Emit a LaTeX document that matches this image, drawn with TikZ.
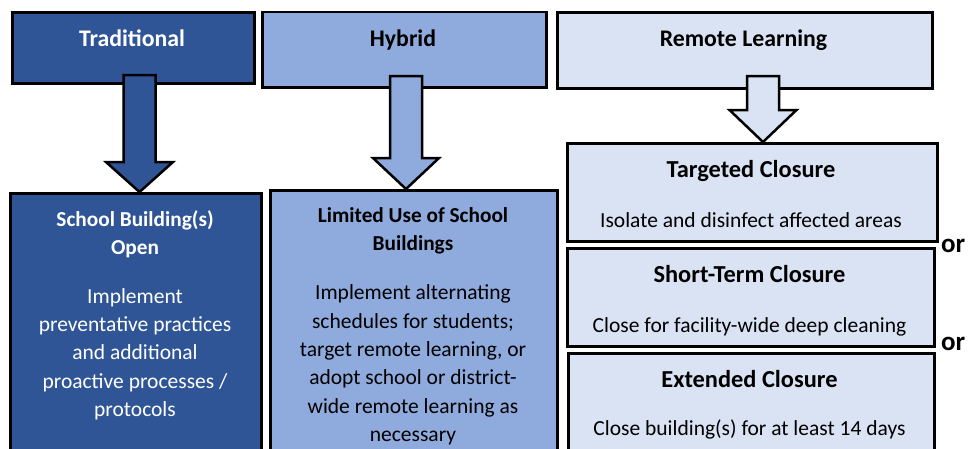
\documentclass[tikz,border=0pt]{standalone}
\usepackage{fontspec}
\setmainfont{Carlito}
\usetikzlibrary{calc}
\definecolor{dblue}{HTML}{2F5597}
\definecolor{mblue}{HTML}{8FAADC}
\definecolor{lblue}{HTML}{DAE3F3}
\newcommand\titlefont{\fontsize{23.8}{28.3}\selectfont\bfseries}
\newcommand\closurefont{\fontsize{24.4}{28.3}\selectfont\bfseries}
\newcommand\subtitlefont{\fontsize{21.3}{28.3}\selectfont\bfseries}
\newcommand\bodyfont{\fontsize{21.5}{28.3}\selectfont}
\newcommand\orfont{\fontsize{27}{30}\selectfont\bfseries}
\newcommand\blockarrow[6]{%
  \draw[arrowline, fill=#6] let \p1=(#1), \p2=(#2) in
    (\x1-#4pt,\y1) -- (\x1+#4pt,\y1) -- (\x1+#4pt,\y2+#3pt) -- (\x1+#5pt,\y2+#3pt)
    -- (\x1,\y2) -- (\x1-#5pt,\y2+#3pt) -- (\x1-#4pt,\y2+#3pt) -- cycle;}
\tikzset{
  box/.style={draw=black, line width=2.5pt, inner sep=0pt, anchor=north west},
  arrowline/.style={draw=black, line width=2.5pt, line join=miter},
  lbl/.style={inner sep=0pt, align=center, anchor=north},
  one/.style={inner sep=0pt, anchor=base},
}
\begin{document}
\begin{tikzpicture}[x=1pt,y=-1pt]
\useasboundingbox (0,0) rectangle (978,448);
\clip (0,0) rectangle (978,448);
\fill[white] (0,0) rectangle (978,448);
% top boxes
\node[box, fill=dblue, minimum width=242pt, minimum height=71pt] (trad) at (11,11) {};
\node[box, fill=mblue, minimum width=284pt, minimum height=75.5pt] (hyb) at (261,10.5) {};
\node[box, fill=lblue, minimum width=375pt, minimum height=76pt] (rem) at (556,11) {};
% bottom boxes
\node[box, fill=dblue, minimum width=251pt, minimum height=280pt] (sbo) at (9,192) {};
\node[box, fill=mblue, minimum width=287pt, minimum height=283pt] (lim) at (269,189) {};
\node[box, fill=lblue, minimum width=370pt, minimum height=98pt] (tgt) at (566,142) {};
\node[box, fill=lblue, minimum width=367pt, minimum height=98pt] (stc) at (566,247) {};
\node[box, fill=lblue, minimum width=366pt, minimum height=120pt] (ext) at (567,352) {};
% arrows
\coordinate (a1) at (139.5,75);
\coordinate (a2) at (406,76);
\coordinate (a3) at (763,76);
\blockarrow{a1}{a1 |- sbo.north}{30}{16}{33.5}{dblue}
\blockarrow{a2}{a2 |- lim.north}{31}{16}{33}{mblue}
\blockarrow{a3}{a3 |- tgt.north}{32}{16}{33.5}{lblue}
% texts
\node[one, text=white, font=\titlefont] (tradt) at (132,46) {Traditional};
\node[one, font=\titlefont] (hybt) at (403,46) {Hybrid};
\node[one, font=\titlefont] (remt) at (743.5,46) {Remote Learning};
\node[lbl, text=white, font=\subtitlefont] (sbot) at (135,210) {School Building(s)\\Open};
\node[lbl, text=white, font=\bodyfont] (sbob) at (135,288.2) {Implement\\preventative practices\\and additional\\proactive processes /\\protocols};
\node[lbl, font=\subtitlefont] (limt) at (413,207.2) {Limited Use of School\\Buildings};
\node[lbl, font=\bodyfont] (limb) at (413,284.7) {Implement alternating\\schedules for students;\\target remote learning, or\\adopt school or district-\\wide remote learning as\\necessary};
\node[one, font=\closurefont] (tgtt) at (751,177) {Targeted Closure};
\node[one, font=\bodyfont] (tgtb) at (751,227) {Isolate and disinfect affected areas};
\node[one, font=\closurefont] (stct) at (749.5,282) {Short-Term Closure};
\node[one, font=\bodyfont] (stcb) at (749.5,332) {Close for facility-wide deep cleaning};
\node[one, font=\closurefont] (extt) at (749.5,387) {Extended Closure};
\node[one, font=\bodyfont] (extb) at (749.5,435) {Close building(s) for at least 14 days};
\node[one, anchor=base west, font=\orfont] (or1) at (941,252) {or};
\node[one, anchor=base west, font=\orfont] (or2) at (941,350) {or};
\end{tikzpicture}
\end{document}
